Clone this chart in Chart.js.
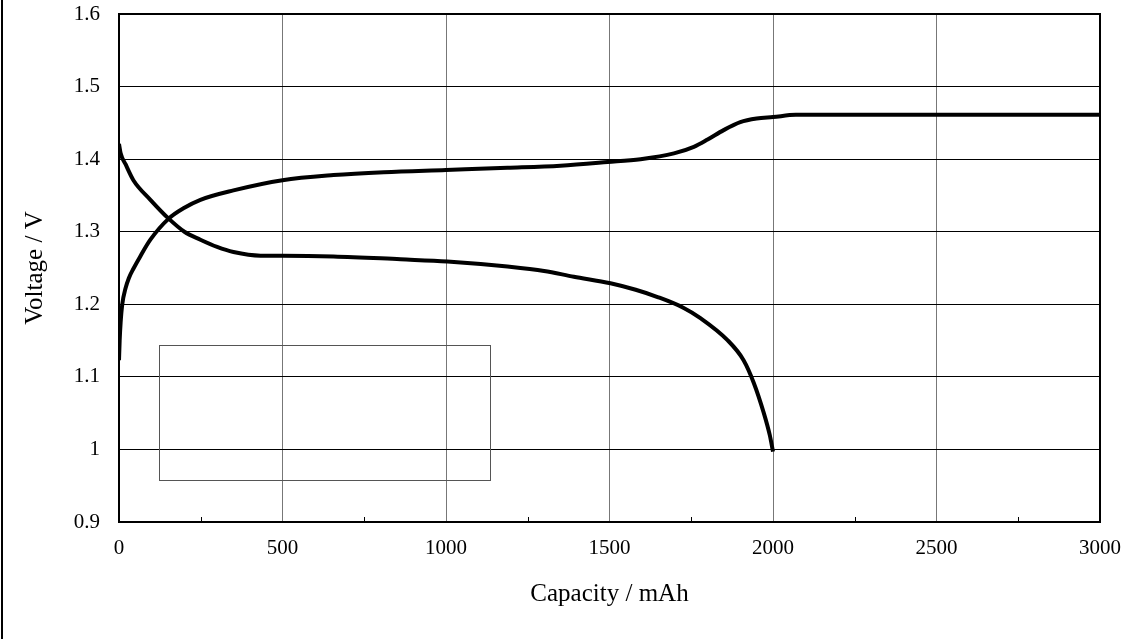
<!DOCTYPE html>
<html>
<head>
<meta charset="utf-8">
<script src="https://cdn.jsdelivr.net/npm/chart.js@4.4.1/dist/chart.umd.min.js"></script>
<style>
  html, body { margin: 0; padding: 0; background: #ffffff; }
  #wrap { width: 1145px; height: 639px; position: relative; }
</style>
</head>
<body>
<div id="wrap"><canvas id="c" width="1145" height="639"></canvas></div>
<script>
// ---- Data ----
const chargeCapacity = [0, 2, 5, 10, 20, 30, 44, 65, 96, 152, 200, 249, 350, 500, 656, 810, 1000, 1188, 1350, 1494, 1595, 1697, 1758, 1800, 1849, 1900, 1950, 2000, 2070, 2500, 3000];
const chargeVoltage  = [1.123, 1.15, 1.175, 1.2, 1.222, 1.236, 1.249, 1.266, 1.289, 1.318, 1.333, 1.344, 1.357, 1.371, 1.378, 1.382, 1.385, 1.388, 1.391, 1.396, 1.400, 1.408, 1.417, 1.427, 1.440, 1.451, 1.456, 1.458, 1.461, 1.461, 1.461];

const dischargeCapacity = [0, 5, 20, 44, 96, 152, 200, 249, 300, 350, 433, 500, 656, 861, 1004, 1188, 1300, 1391, 1503, 1580, 1647, 1727, 1778, 1860, 1910, 1941, 1972, 1990, 2000];
const dischargeVoltage  = [1.421, 1.408, 1.393, 1.371, 1.344, 1.318, 1.300, 1.289, 1.279, 1.272, 1.267, 1.267, 1.266, 1.262, 1.259, 1.252, 1.246, 1.238, 1.229, 1.220, 1.210, 1.195, 1.181, 1.151, 1.123, 1.092, 1.050, 1.020, 0.997];

const xTickValues = [0, 500, 1000, 1500, 2000, 2500, 3000];
const xMinorTicks = [250, 750, 1250, 1750, 2250, 2750];
const yTickValues = [0.9, 1.0, 1.1, 1.2, 1.3, 1.4, 1.5, 1.6];

const xTitle = 'Capacity / mAh';
const yTitle = 'Voltage / V';

// empty legend frame (in data units)
const legendBoxX = [121, 1133];
const legendBoxY = [1.144, 0.958];

function toPoints(xs, ys) { return xs.map((x, i) => ({ x: x, y: ys[i] })); }

Chart.defaults.font.family = "'Liberation Serif', 'Times New Roman', serif";
Chart.defaults.font.size = 21;
Chart.defaults.color = '#000';

const framePlugin = {
  id: 'frame',
  beforeDatasetsDraw(chart) {
    const { ctx, scales } = chart;
    ctx.save();
    const x1 = scales.x.getPixelForValue(legendBoxX[0]);
    const x2 = scales.x.getPixelForValue(legendBoxX[1]);
    const y1 = scales.y.getPixelForValue(legendBoxY[0]);
    const y2 = scales.y.getPixelForValue(legendBoxY[1]);
    ctx.strokeStyle = '#555';
    ctx.lineWidth = 1;
    ctx.strokeRect(Math.round(x1) + 0.5, Math.round(y1) + 0.5, Math.round(x2 - x1), Math.round(y2 - y1));
    ctx.restore();
  },
  afterDraw(chart) {
    const { ctx, chartArea: a, scales } = chart;
    ctx.save();
    ctx.strokeStyle = '#000';
    ctx.lineWidth = 2;
    ctx.strokeRect(a.left, a.top, a.right - a.left, a.bottom - a.top);
    ctx.lineWidth = 1;
    xMinorTicks.forEach(v => {
      const px = Math.round(scales.x.getPixelForValue(v)) + 0.5;
      ctx.beginPath();
      ctx.moveTo(px, a.bottom);
      ctx.lineTo(px, a.bottom - 5);
      ctx.stroke();
    });
    ctx.lineWidth = 2;
    ctx.beginPath();
    ctx.moveTo(2, 0);
    ctx.lineTo(2, chart.height);
    ctx.stroke();
    ctx.restore();
  }
};

new Chart(document.getElementById('c'), {
  type: 'line',
  data: {
    datasets: [
      {
        label: 'Charge',
        data: toPoints(chargeCapacity, chargeVoltage),
        borderColor: '#000',
        borderWidth: 4,
        pointRadius: 0,
        cubicInterpolationMode: 'monotone',
        fill: false
      },
      {
        label: 'Discharge',
        data: toPoints(dischargeCapacity, dischargeVoltage),
        borderColor: '#000',
        borderWidth: 4,
        pointRadius: 0,
        cubicInterpolationMode: 'monotone',
        fill: false
      }
    ]
  },
  options: {
    responsive: false,
    animation: false,
    devicePixelRatio: 1,
    layout: { padding: { top: 0, right: 45, left: 0, bottom: 0 } },
    plugins: { legend: { display: false }, tooltip: { enabled: false } },
    scales: {
      x: {
        type: 'linear',
        min: 0, max: 3000,
        afterBuildTicks(s) { s.ticks = xTickValues.map(v => ({ value: v })); },
        ticks: { padding: 14, maxRotation: 0, autoSkip: false, color: '#000',
                 callback: v => String(v) },
        grid: { color: '#777', lineWidth: 1, drawTicks: false },
        border: { display: true, color: '#000', width: 2 },
        title: { display: true, text: xTitle, color: '#000', font: { size: 25 }, padding: { top: 0, bottom: 30 } },
        afterFit(s) { s.height = 117; }
      },
      y: {
        type: 'linear',
        min: 0.9, max: 1.6,
        afterBuildTicks(s) { s.ticks = yTickValues.map(v => ({ value: v })); },
        ticks: { padding: 19, color: '#000',
                 callback: v => String(Number(Number(v).toFixed(1))) },
        grid: { color: '#000', lineWidth: 1, drawTicks: false },
        border: { display: true, color: '#000', width: 2 },
        title: { display: true, text: yTitle, color: '#000', font: { size: 25 }, padding: { top: 20, bottom: 0 } },
        afterFit(s) { s.width = 119; s.paddingTop = 14; }
      }
    }
  },
  plugins: [framePlugin]
});
</script>
</body>
</html>
